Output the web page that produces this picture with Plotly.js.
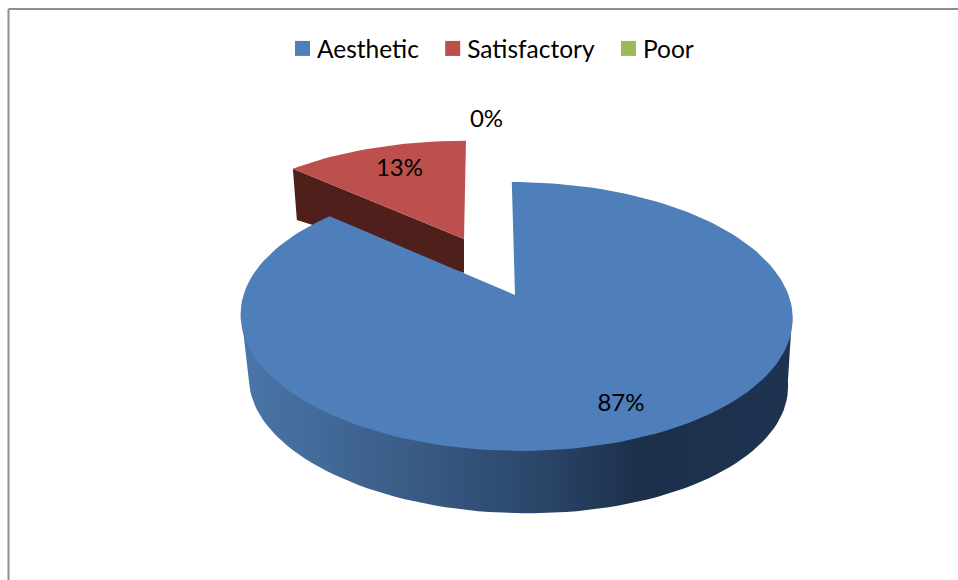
<!DOCTYPE html>
<html>
<head>
<meta charset="utf-8">
<script src="https://cdn.plot.ly/plotly-3.0.1.min.js"></script>
<style>html,body{margin:0;padding:0;background:#fff}#chart{width:958px;height:580px}</style>
</head>
<body>
<div id="chart"></div>
<script>
// Data
var categories = ['Aesthetic', 'Satisfactory', 'Poor'];
var shares = [87, 13, 0];
var sliceColors = ['#4e7fbb', '#bd4f4c', '#9bbb59'];

// Perspective projection of the pie on the page
var PERSPECTIVE = 0.16;
var FONT = 'Lato, "Open Sans", sans-serif';
var LABEL_SIZE = 24;
var LEGEND_SIZE = 24.5;
var blueTop = {cx: 516, cy: 295, rx: 272.5, ry: 131, shear: 0.03};
var rimUpper = {cx: 516, cy: 292, rx: 272, ry: 131, shear: 0.03};
var blueBase = {cx: 517, cy: 361, rx: 266, ry: 128, shear: 0.07};
var blueApexX = 515;
var blueStartAngle = -0.2, blueEndTrim = -1.5;
var redTop = {cx: 464, cy: 239, rx: 262.6, ry: 114, shear: -0.02};
var redBase = {cx: 464, cy: 273, rx: 256, ry: 86, shear: -0.02};
var labelPos = [[621, 405], [399.5, 170], [486.5, 121]];

function project(p, deg) {
  var t = deg * Math.PI / 180, u = Math.sin(t), v = Math.cos(t), d = 1 + PERSPECTIVE * v;
  var s = p.ry * v / d;
  return [p.cx + p.rx * u / d - p.shear * s, p.cy - s];
}
function arc(p, from, to) {
  var pts = [], n = Math.max(2, Math.ceil(Math.abs(to - from) / 2));
  for (var i = 0; i <= n; i++) pts.push(project(p, from + (to - from) * i / n));
  return pts;
}
function polyTrace(pts, extra) {
  var tr = {
    x: pts.map(function (q) { return q[0]; }),
    y: pts.map(function (q) { return q[1]; }),
    mode: 'lines', fill: 'toself', line: {width: 0},
    showlegend: false, hoverinfo: 'skip', type: 'scatter'
  };
  for (var k in extra) tr[k] = extra[k];
  return tr;
}

var total = shares.reduce(function (a, b) { return a + b; }, 0);
var firstEnd = 360 * shares[0] / total;
var traces = [];

// Exploded slice: dark cut face, then its top
var a = project(redTop, firstEnd), b = project(redBase, firstEnd);
traces.push(polyTrace([a, [redTop.cx, redTop.cy], [redBase.cx, redBase.cy], b], {fillcolor: '#4f1f1b'}));
traces.push(polyTrace([[redTop.cx, redTop.cy]].concat(arc(redTop, firstEnd, 360)), {fillcolor: sliceColors[1]}));

// Main slice: rim with gradient, then its top
var rim = arc(rimUpper, 99, 261).concat(arc(blueBase, 261, 99));
traces.push(polyTrace(rim, {
  fillcolor: '#2c4a70',
  fillgradient: {
    type: 'horizontal', start: 245, stop: 790,
    colorscale: [[0, '#4a75a8'], [0.3, '#3a5c86'], [0.55, '#2a4568'], [0.72, '#1c304b'], [1, '#1e3350']]
  }
}));
traces.push(polyTrace([[blueApexX, blueTop.cy]].concat(arc(blueTop, blueStartAngle, firstEnd + blueEndTrim)), {fillcolor: sliceColors[0]}));

// Legend entries
categories.forEach(function (c, i) {
  traces.push({
    type: 'scatter', mode: 'markers', name: c, x: [null], y: [null],
    marker: {symbol: 'square', size: 15, color: sliceColors[i]},
    hoverinfo: 'skip'
  });
});

// Percentage labels
traces.push({
  type: 'scatter', mode: 'text', showlegend: false, hoverinfo: 'skip',
  x: labelPos.map(function (p) { return p[0]; }),
  y: labelPos.map(function (p) { return p[1]; }),
  text: shares.map(function (v) { return v + '%'; }),
  textposition: 'middle center',
  textfont: {family: FONT, size: LABEL_SIZE, color: '#000'}
});

var layout = {
  width: 958, height: 580,
  margin: {l: 0, r: 0, t: 0, b: 0},
  paper_bgcolor: '#fff', plot_bgcolor: '#fff',
  showlegend: true,
  font: {family: FONT, size: LABEL_SIZE, color: '#000'},
  xaxis: {range: [0, 958], visible: false, fixedrange: true},
  yaxis: {range: [580, 0], visible: false, fixedrange: true},
  legend: {
    orientation: 'h', x: 281 / 958, xanchor: 'left', y: 1 - 26 / 580, yanchor: 'top',
    bgcolor: 'rgba(0,0,0,0)', itemwidth: 33,
    font: {family: FONT, size: LEGEND_SIZE, color: '#000'}
  },
  shapes: [
    {type: 'line', xref: 'x', yref: 'y', x0: 8.5, x1: 8.5, y0: 9, y1: 580, line: {color: '#8f8f8f', width: 2}},
    {type: 'line', xref: 'x', yref: 'y', x0: 8.5, x1: 958, y0: 9, y1: 9, line: {color: '#8f8f8f', width: 2}}
  ]
};

Plotly.newPlot('chart', traces, layout, {staticPlot: true, displayModeBar: false}).then(function (gd) {
  // Bring the legend text closer to its swatch
  gd.querySelectorAll('.legendtext').forEach(function (el) {
    el.setAttribute('x', parseFloat(el.getAttribute('x')) - 7);
  });
});
</script>
</body>
</html>
